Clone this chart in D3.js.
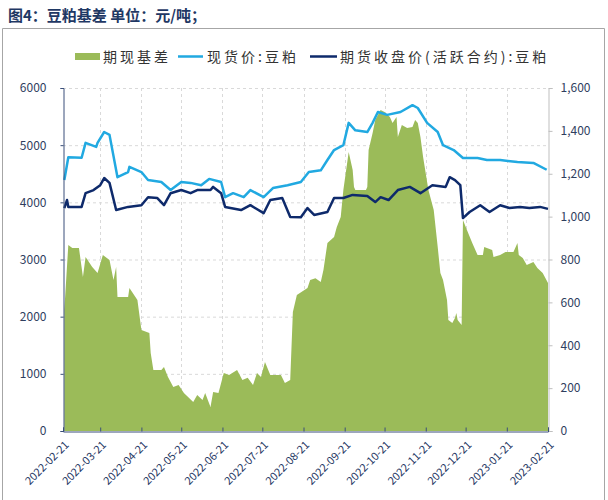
<!DOCTYPE html>
<html><head><meta charset="utf-8">
<script src="https://cdn.jsdelivr.net/npm/d3@7"></script>
<style>body{margin:0;background:#fff;}svg{display:block;}</style>
</head><body>
<script>
const spotDates = ["2022-02-22","2022-02-25","2022-03-07","2022-03-10","2022-03-18","2022-03-19","2022-03-24","2022-03-28","2022-04-03","2022-04-11","2022-04-12","2022-04-21","2022-04-26","2022-05-06","2022-05-13","2022-05-21","2022-05-28","2022-06-05","2022-06-11","2022-06-20","2022-06-23","2022-06-29","2022-07-07","2022-07-12","2022-07-22","2022-07-29","2022-08-09","2022-08-19","2022-08-25","2022-09-03","2022-09-08","2022-09-13","2022-09-20","2022-09-24","2022-09-29","2022-10-08","2022-10-12","2022-10-16","2022-10-23","2022-11-02","2022-11-11","2022-11-15","2022-11-22","2022-11-30","2022-12-04","2022-12-12","2022-12-19","2022-12-30","2023-01-06","2023-01-16","2023-01-29","2023-02-10","2023-02-20"];
const spotValues = [4390,4790,4780,5040,4970,5040,5230,5180,4440,4530,4620,4530,4390,4355,4215,4355,4340,4300,4410,4355,4090,4160,4090,4215,4090,4250,4300,4355,4530,4560,4740,4915,5000,5390,5260,5230,5390,5580,5530,5580,5700,5650,5390,5230,5000,4915,4775,4775,4740,4740,4705,4690,4570];

const futDates = ["2022-02-22","2022-02-24","2022-02-25","2022-03-07","2022-03-10","2022-03-16","2022-03-21","2022-03-24","2022-03-28","2022-04-02","2022-04-11","2022-04-21","2022-04-26","2022-05-03","2022-05-08","2022-05-13","2022-05-21","2022-05-28","2022-06-02","2022-06-12","2022-06-14","2022-06-20","2022-06-23","2022-07-05","2022-07-12","2022-07-22","2022-07-27","2022-08-05","2022-08-11","2022-08-19","2022-08-24","2022-08-29","2022-09-08","2022-09-13","2022-09-20","2022-09-27","2022-10-08","2022-10-14","2022-10-18","2022-10-24","2022-10-31","2022-11-09","2022-11-17","2022-11-26","2022-12-06","2022-12-09","2022-12-13","2022-12-17","2022-12-19","2022-12-24","2023-01-01","2023-01-08","2023-01-16","2023-01-23","2023-01-31","2023-02-07","2023-02-15","2023-02-21"];
const futValues = [3900,4040,3920,3920,4160,4215,4300,4425,4340,3865,3920,3950,4090,4075,3950,4160,4215,4160,4215,4215,4270,4160,3920,3865,3950,3810,4040,4075,3745,3740,3900,3780,3830,4075,4075,4130,4110,4005,4090,4040,4215,4270,4160,4300,4270,4440,4390,4300,3725,3830,3950,3830,3950,3900,3920,3900,3920,3885];

const basisDates = ["2022-02-22","2022-02-25","2022-02-28","2022-03-05","2022-03-08","2022-03-10","2022-03-15","2022-03-19","2022-03-23","2022-03-28","2022-03-31","2022-04-02","2022-04-03","2022-04-11","2022-04-12","2022-04-18","2022-04-21","2022-04-27","2022-04-28","2022-04-30","2022-05-06","2022-05-08","2022-05-11","2022-05-15","2022-05-19","2022-05-23","2022-05-30","2022-06-02","2022-06-06","2022-06-08","2022-06-12","2022-06-14","2022-06-18","2022-06-22","2022-06-26","2022-07-02","2022-07-06","2022-07-10","2022-07-14","2022-07-17","2022-07-20","2022-07-23","2022-07-27","2022-08-04","2022-08-07","2022-08-11","2022-08-13","2022-08-16","2022-08-24","2022-08-26","2022-08-30","2022-09-03","2022-09-05","2022-09-08","2022-09-13","2022-09-15","2022-09-18","2022-09-20","2022-09-24","2022-09-27","2022-09-28","2022-09-29","2022-10-07","2022-10-08","2022-10-09","2022-10-12","2022-10-14","2022-10-18","2022-10-21","2022-10-25","2022-10-27","2022-10-30","2022-10-31","2022-11-03","2022-11-07","2022-11-11","2022-11-13","2022-11-15","2022-11-17","2022-11-19","2022-11-23","2022-11-27","2022-11-30","2022-12-02","2022-12-04","2022-12-07","2022-12-08","2022-12-11","2022-12-13","2022-12-14","2022-12-15","2022-12-18","2022-12-19","2022-12-22","2022-12-26","2022-12-30","2023-01-03","2023-01-04","2023-01-10","2023-01-11","2023-01-16","2023-01-20","2023-01-26","2023-01-29","2023-01-30","2023-02-02","2023-02-05","2023-02-10","2023-02-13","2023-02-17","2023-02-21"];
const basisValues = [564,868,854,854,718,812,765,737,821,798,704,765,625,625,667,611,471,457,364,285,285,299,252,205,215,177,135,168,145,177,112,182,177,270,261,285,238,248,215,270,252,322,261,261,224,238,555,634,667,704,713,695,751,877,905,950,998,1124,1302,1218,1138,1124,1124,1138,1311,1390,1451,1497,1488,1465,1437,1465,1372,1427,1413,1418,1451,1437,1372,1278,1124,1031,858,737,704,611,518,504,527,550,518,494,984,938,877,821,821,858,844,812,821,835,835,877,821,807,774,788,760,737,690];

const leftTicks = [0,1000,2000,3000,4000,5000,6000];
const rightTicks = [0,200,400,600,800,1000,1200,1400,1600];
const xTickLabels = ["2022-02-21","2022-03-21","2022-04-21","2022-05-21","2022-06-21","2022-07-21","2022-08-21","2022-09-21","2022-10-21","2022-11-21","2022-12-21","2023-01-21","2023-02-21"];
const seriesNames = ["期现基差","现货价:豆粕","期货收盘价(活跃合约):豆粕"];
const titleText = "图4：豆粕基差 单位：元/吨；";

const W = 608, H = 500;
const M = {l:63, r:548, t:88, b:431};
const parse = d3.timeParse("%Y-%m-%d");
const C = {basis:"#9BBB59", spot:"#21A9E1", fut:"#0E2A6B", text:"#1F3864"};
const font = "'Noto Sans CJK SC','Noto Sans',sans-serif";

const svg = d3.select("body").append("svg").attr("width",W).attr("height",H);

// frame
svg.append("path").attr("d",`M2.5,${H}V28.5H604.5V${H}`).attr("fill","none").attr("stroke","#A6A6A6").attr("stroke-width",1);

svg.append("text").attr("x",8).attr("y",21).attr("font-family",font).attr("font-weight","bold")
  .attr("font-size",15).attr("fill",C.text).text(titleText);

const x = d3.scaleTime().domain([parse("2022-02-21"),parse("2023-02-21")]).range([M.l,M.r]);
const yL = d3.scaleLinear().domain([0,6000]).range([M.b,M.t]);
const yR = d3.scaleLinear().domain([0,1600]).range([M.b,M.t]);
const xTicks = xTickLabels.map(parse);

// grid
const g = svg.append("g");
g.selectAll(".hg").data(leftTicks.filter(d=>d>0)).join("line")
  .attr("x1",M.l).attr("x2",M.r).attr("y1",d=>yL(d)+0.5).attr("y2",d=>yL(d)+0.5)
  .attr("stroke","#D9D9D9").attr("stroke-dasharray","3,3");
g.selectAll(".vg").data(xTicks.slice(1,-1)).join("line")
  .attr("x1",d=>Math.round(x(d))+0.5).attr("x2",d=>Math.round(x(d))+0.5).attr("y1",M.t).attr("y2",M.b)
  .attr("stroke","#D9D9D9").attr("stroke-dasharray","3,3");

// area
const basis = basisDates.map((d,i)=>({d:parse(d),v:basisValues[i]}));
svg.append("path").datum(basis)
  .attr("d",d3.area().x(p=>x(p.d)).y0(M.b).y1(p=>yR(p.v)))
  .attr("fill",C.basis);

const spot = spotDates.map((d,i)=>({d:parse(d),v:spotValues[i]}));
const fut = futDates.map((d,i)=>({d:parse(d),v:futValues[i]}));
const line = d3.line().x(p=>x(p.d)).y(p=>yL(p.v));
svg.append("path").datum(spot).attr("d",line).attr("fill","none").attr("stroke",C.spot).attr("stroke-width",2.5).attr("stroke-linejoin","round");
svg.append("path").datum(fut).attr("d",line).attr("fill","none").attr("stroke",C.fut).attr("stroke-width",2.5).attr("stroke-linejoin","round");

// left axis
const ax = svg.append("g").attr("transform",`translate(${M.l+0.5},0)`)
  .call(d3.axisLeft(yL).tickValues(leftTicks).tickSize(3).tickPadding(14).tickFormat(d3.format("d")));
ax.select(".domain").attr("stroke","#3A4F7A");
ax.selectAll(".tick line").attr("stroke","#3A4F7A");
ax.selectAll("text").attr("font-family",font).attr("font-size",12).attr("fill","#2F3E5E");

// right axis
const ar = svg.append("g").attr("transform",`translate(${M.r+0.5},0)`)
  .call(d3.axisRight(yR).tickValues(rightTicks).tickSize(4).tickPadding(8).tickFormat(d3.format(",")));
ar.select(".domain").attr("stroke","#BFBFBF");
ar.selectAll(".tick line").attr("stroke","#BFBFBF");
ar.selectAll("text").attr("font-family",font).attr("font-size",12).attr("fill","#2F3E5E");

// bottom axis
const ab = svg.append("g").attr("transform",`translate(0,${M.b+0.5})`)
  .call(d3.axisBottom(x).tickValues(xTicks).tickSize(-4).tickFormat(d3.timeFormat("%Y-%m-%d")));
ab.select(".domain").attr("stroke","#3A4F7A");
ab.selectAll(".tick line").attr("stroke","#3A4F7A");
ab.selectAll("text").attr("font-family",font).attr("font-size",11).attr("fill",C.text)
  .attr("text-anchor","end").attr("dy",0).attr("transform","translate(4,12) rotate(-45)");

// legend
const lg = svg.append("g").attr("font-family",font).attr("font-size",14).attr("letter-spacing",3).attr("fill","#333");
lg.append("rect").attr("x",75).attr("y",53).attr("width",25).attr("height",7).attr("fill",C.basis);
lg.append("text").attr("x",103).attr("y",62).text(seriesNames[0]);
lg.append("line").attr("x1",178).attr("x2",203).attr("y1",56.5).attr("y2",56.5).attr("stroke",C.spot).attr("stroke-width",2.5);
lg.append("text").attr("x",207).attr("y",62).text(seriesNames[1]);
lg.append("line").attr("x1",310).attr("x2",337).attr("y1",56.5).attr("y2",56.5).attr("stroke",C.fut).attr("stroke-width",2.5);
lg.append("text").attr("x",340).attr("y",62).text(seriesNames[2]);
</script>
</body></html>
